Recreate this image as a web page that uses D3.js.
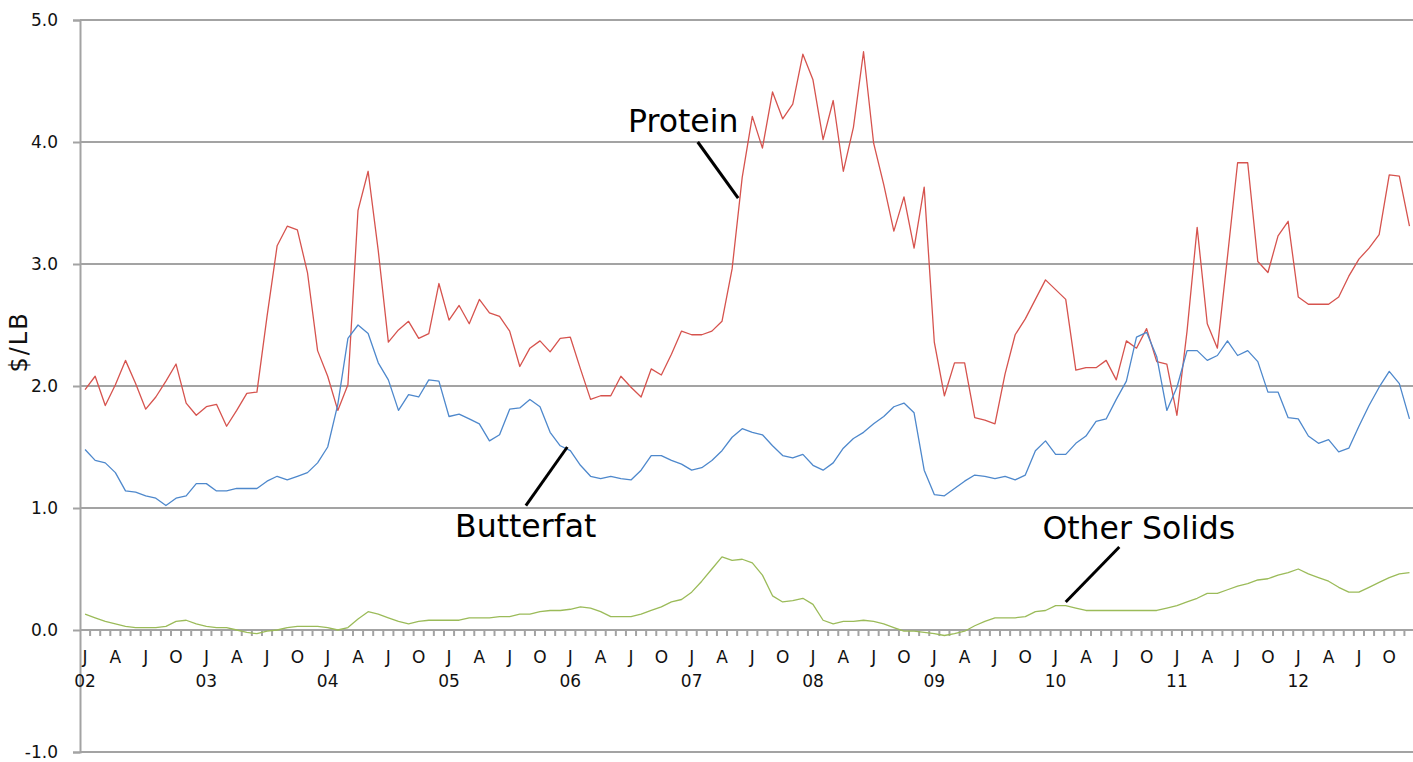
<!DOCTYPE html>
<meta charset="utf-8">
<html>
<head>
  <title>Component prices $/LB</title>
  <script src="https://d3js.org/d3.v7.min.js"></script>
  <style>
    body {
      margin: 0;
      background-color: white;
      font-family: "DejaVu Sans", Verdana, sans-serif;
    }
  </style>
</head>
<body>
  <div id="chart"></div>

<script>

// months Jan 2002 .. Dec 2012
var years = ["02","03","04","05","06","07","08","09","10","11","12"];
var monthLetters = ["J","F","M","A","M","J","J","A","S","O","N","D"];

var months = [];
years.forEach(function(yr) {
  monthLetters.forEach(function(m, k) { months.push(yr + "-" + (k + 1)); });
});

// $/LB, one value per month
var protein = [
  1.97, 2.08, 1.84, 2.01, 2.21, 2.02, 1.81, 1.91, 2.04, 2.18, 1.86, 1.76,
  1.83, 1.85, 1.67, 1.80, 1.94, 1.95, 2.57, 3.15, 3.31, 3.28, 2.93, 2.29,
  2.08, 1.80, 2.01, 3.44, 3.76, 3.11, 2.36, 2.46, 2.53, 2.39, 2.43, 2.84,
  2.54, 2.66, 2.51, 2.71, 2.60, 2.57, 2.45, 2.16, 2.31, 2.37, 2.28, 2.39,
  2.40, 2.14, 1.89, 1.92, 1.92, 2.08, 1.99, 1.91, 2.14, 2.09, 2.26, 2.45,
  2.42, 2.42, 2.45, 2.53, 2.96, 3.71, 4.21, 3.95, 4.41, 4.19, 4.31, 4.72,
  4.51, 4.02, 4.34, 3.76, 4.12, 4.74, 3.99, 3.65, 3.27, 3.55, 3.13, 3.63,
  2.36, 1.92, 2.19, 2.19, 1.74, 1.72, 1.69, 2.10, 2.42, 2.55, 2.71, 2.87,
  2.79, 2.71, 2.13, 2.15, 2.15, 2.21, 2.05, 2.37, 2.31, 2.47, 2.20, 2.18,
  1.76, 2.45, 3.30, 2.51, 2.31, 3.06, 3.83, 3.83, 3.02, 2.93, 3.23, 3.35,
  2.73, 2.67, 2.67, 2.67, 2.73, 2.90, 3.04, 3.13, 3.24, 3.73, 3.72, 3.31
];

var butterfat = [
  1.48, 1.39, 1.37, 1.29, 1.14, 1.13, 1.10, 1.08, 1.02, 1.08, 1.10, 1.20,
  1.20, 1.14, 1.14, 1.16, 1.16, 1.16, 1.22, 1.26, 1.23, 1.26, 1.29, 1.37,
  1.50, 1.85, 2.39, 2.50, 2.43, 2.19, 2.05, 1.80, 1.93, 1.91, 2.05, 2.04,
  1.75, 1.77, 1.73, 1.69, 1.55, 1.60, 1.81, 1.82, 1.89, 1.83, 1.62, 1.51,
  1.47, 1.35, 1.26, 1.24, 1.26, 1.24, 1.23, 1.31, 1.43, 1.43, 1.39, 1.36,
  1.31, 1.33, 1.39, 1.47, 1.58, 1.65, 1.62, 1.60, 1.51, 1.43, 1.41, 1.44,
  1.35, 1.31, 1.37, 1.49, 1.57, 1.62, 1.69, 1.75, 1.83, 1.86, 1.78, 1.31,
  1.11, 1.10, 1.16, 1.22, 1.27, 1.26, 1.24, 1.26, 1.23, 1.27, 1.47, 1.55,
  1.44, 1.44, 1.53, 1.59, 1.71, 1.73, 1.89, 2.04, 2.40, 2.44, 2.24, 1.80,
  1.99, 2.29, 2.29, 2.21, 2.25, 2.37, 2.25, 2.29, 2.20, 1.95, 1.95, 1.74,
  1.73, 1.59, 1.53, 1.56, 1.46, 1.49, 1.67, 1.84, 1.99, 2.12, 2.02, 1.73
];

var otherSolids = [
  0.13, 0.10, 0.07, 0.05, 0.03, 0.02, 0.02, 0.02, 0.03, 0.07, 0.08, 0.05,
  0.03, 0.02, 0.02, 0.00, -0.02, -0.03, -0.01, 0.00, 0.02, 0.03, 0.03, 0.03,
  0.02, 0.00, 0.02, 0.09, 0.15, 0.13, 0.10, 0.07, 0.05, 0.07, 0.08, 0.08,
  0.08, 0.08, 0.10, 0.10, 0.10, 0.11, 0.11, 0.13, 0.13, 0.15, 0.16, 0.16,
  0.17, 0.19, 0.18, 0.15, 0.11, 0.11, 0.11, 0.13, 0.16, 0.19, 0.23, 0.25,
  0.31, 0.40, 0.50, 0.60, 0.57, 0.58, 0.55, 0.45, 0.28, 0.23, 0.24, 0.26,
  0.21, 0.08, 0.05, 0.07, 0.07, 0.08, 0.07, 0.05, 0.02, -0.01, -0.01, -0.02,
  -0.03, -0.045, -0.03, -0.01, 0.035, 0.07, 0.10, 0.10, 0.10, 0.11, 0.15, 0.16,
  0.20, 0.20, 0.18, 0.16, 0.16, 0.16, 0.16, 0.16, 0.16, 0.16, 0.16, 0.18,
  0.20, 0.23, 0.26, 0.30, 0.30, 0.33, 0.36, 0.38, 0.41, 0.42, 0.45, 0.47,
  0.50, 0.46, 0.43, 0.40, 0.35, 0.31, 0.31, 0.35, 0.39, 0.43, 0.46, 0.47
];

var yTicks = [-1, 0, 1, 2, 3, 4, 5];

// callout labels, placed in (month index, $/LB) units
var callouts = [
  {label: "Protein",      text: [53.7, 4.08], from: [60.6, 4.00], to: [64.6, 3.54]},
  {label: "Butterfat",    text: [36.6, 0.76], from: [47.7, 1.50], to: [43.6, 1.02]},
  {label: "Other Solids", text: [94.7, 0.75], from: [97.0, 0.23], to: [102.3, 0.68]}
];

var series = [
  {name: "Protein",      values: protein,     color: "#d6534e"},
  {name: "Butterfat",    values: butterfat,   color: "#4e88cc"},
  {name: "Other Solids", values: otherSolids, color: "#9bbb59"}
];

// dimensions
var W = 1413, H = 762;
var plotLeft = 80, plotTop = 20, plotBottom = 752;
var gridColor = "#a3a3a3";
var fontFam = "'DejaVu Sans', Verdana, sans-serif";

var svg = d3.select("#chart")
  .append("svg")
    .attr("width", W)
    .attr("height", H)
    .style("font-family", fontFam);

// x: one band per month, plot runs off the right edge like the original
var x = d3.scaleBand()
  .domain(months)
  .range([plotLeft, plotLeft + months.length * 10.11])
  .padding(0);

var cx = function(i) { return x(months[0]) + x.bandwidth() / 2 + i * x.step(); };

var y = d3.scaleLinear()
  .domain([-1, 5])
  .range([plotBottom, plotTop]);

// horizontal gridlines
svg.append("g")
  .selectAll("line")
  .data(yTicks)
  .enter()
  .append("line")
    .attr("x1", plotLeft)
    .attr("x2", W)
    .attr("y1", function(d) { return y(d); })
    .attr("y2", function(d) { return y(d); })
    .attr("stroke", gridColor)
    .attr("stroke-width", 2);

// y axis (plain hyphen for the minus, as in the original)
var yAxis = svg.append("g")
  .attr("transform", "translate(" + plotLeft + ",0)")
  .call(d3.axisLeft(y)
    .tickValues(yTicks)
    .tickSize(7)
    .tickPadding(15)
    .tickFormat(function(d) { return d.toFixed(1); }));
yAxis.selectAll("path, line").attr("stroke", gridColor).attr("stroke-width", 2);
yAxis.selectAll("text")
  .attr("font-size", 17)
  .attr("font-family", fontFam)
  .attr("fill", "#111");

svg.append("text")
  .attr("transform", "translate(27,342)rotate(-90)")
  .attr("text-anchor", "middle")
  .attr("font-size", 24)
  .attr("letter-spacing", 2)
  .attr("fill", "#111")
  .text("$/LB");

// x axis along zero
var x0 = y(0);
var xAxis = svg.append("g")
  .attr("transform", "translate(0," + x0 + ")")
  .call(d3.axisBottom(x)
    .tickSize(0)
    .tickPadding(21)
    .tickFormat(function(d) {
      var k = +d.split("-")[1] - 1;
      return (k % 3 === 0) ? monthLetters[k] : "";
    }));
xAxis.select(".domain").attr("stroke", gridColor).attr("stroke-width", 2)
  .attr("d", "M" + plotLeft + ",0H" + W);
xAxis.selectAll("text")
  .attr("font-size", 17)
  .attr("font-family", fontFam)
  .attr("fill", "#111");

// small ticks between months
svg.append("g")
  .selectAll("line")
  .data(months.slice(1))
  .enter()
  .append("line")
    .attr("x1", function(d) { return x(d); })
    .attr("x2", function(d) { return x(d); })
    .attr("y1", x0)
    .attr("y2", x0 + 6)
    .attr("stroke", gridColor)
    .attr("stroke-width", 2);

// year labels under each January
svg.append("g")
  .selectAll("text")
  .data(years)
  .enter()
  .append("text")
    .attr("x", function(d) { return x(d + "-1") + x.bandwidth() / 2; })
    .attr("y", x0 + 57)
    .attr("text-anchor", "middle")
    .attr("font-size", 17)
    .attr("fill", "#111")
    .text(function(d) { return d; });

// the three series
var line = d3.line()
  .x(function(d, i) { return cx(i); })
  .y(function(d) { return y(d); });

svg.append("g")
  .selectAll("path")
  .data(series)
  .enter()
  .append("path")
    .attr("d", function(s) { return line(s.values); })
    .attr("fill", "none")
    .attr("stroke", function(s) { return s.color; })
    .attr("stroke-width", 1.3)
    .attr("stroke-linejoin", "round");

// callouts
var co = svg.append("g").selectAll("g")
  .data(callouts)
  .enter()
  .append("g");

co.append("line")
  .attr("x1", function(d) { return cx(d.from[0]); })
  .attr("y1", function(d) { return y(d.from[1]); })
  .attr("x2", function(d) { return cx(d.to[0]); })
  .attr("y2", function(d) { return y(d.to[1]); })
  .attr("stroke", "#000")
  .attr("stroke-width", 3);

co.append("text")
  .attr("x", function(d) { return cx(d.text[0]); })
  .attr("y", function(d) { return y(d.text[1]); })
  .attr("font-size", 31.5)
  .attr("fill", "#000")
  .text(function(d) { return d.label; });

</script>
</body>
</html>
